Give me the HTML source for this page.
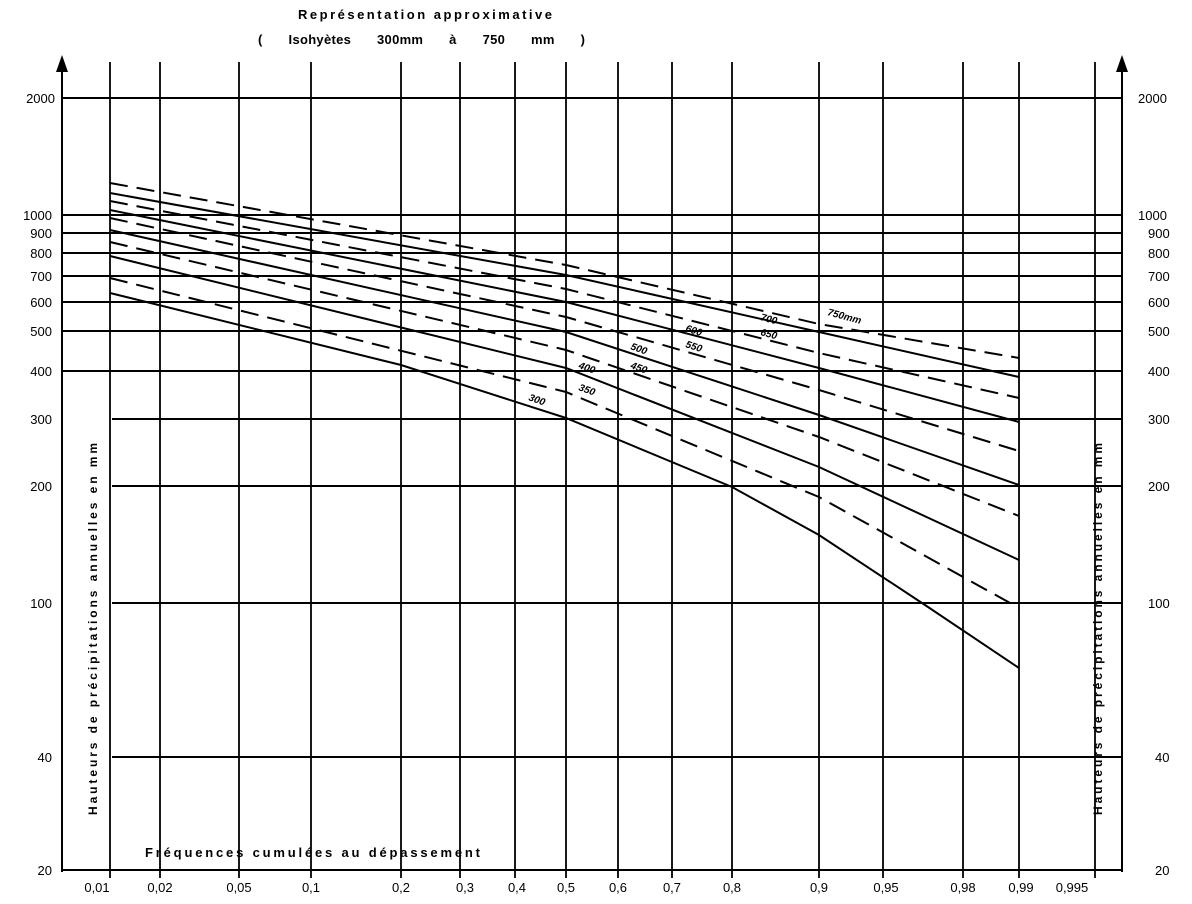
<!DOCTYPE html>
<html><head><meta charset="utf-8"><style>
body{margin:0;background:#fff}
svg{display:block}
text{font-family:"Liberation Sans",sans-serif;fill:#000}
</style></head><body>
<svg width="1192" height="904" viewBox="0 0 1192 904" xmlns="http://www.w3.org/2000/svg">
<g stroke="#000" stroke-width="2" fill="none">
<line x1="62" y1="62" x2="62" y2="872"/>
<line x1="1122" y1="62" x2="1122" y2="872"/>
<line x1="62" y1="870" x2="1122" y2="870"/>
<g stroke-width="1.8">
<line x1="110" y1="62" x2="110" y2="878"/>
<line x1="160" y1="62" x2="160" y2="878"/>
<line x1="239" y1="62" x2="239" y2="878"/>
<line x1="311" y1="62" x2="311" y2="878"/>
<line x1="401" y1="62" x2="401" y2="878"/>
<line x1="460" y1="62" x2="460" y2="878"/>
<line x1="515" y1="62" x2="515" y2="878"/>
<line x1="566" y1="62" x2="566" y2="878"/>
<line x1="618" y1="62" x2="618" y2="878"/>
<line x1="672" y1="62" x2="672" y2="878"/>
<line x1="732" y1="62" x2="732" y2="878"/>
<line x1="819" y1="62" x2="819" y2="878"/>
<line x1="883" y1="62" x2="883" y2="878"/>
<line x1="963" y1="62" x2="963" y2="878"/>
<line x1="1019" y1="62" x2="1019" y2="878"/>
<line x1="1095" y1="62" x2="1095" y2="878"/>
</g>
<line x1="62" y1="98" x2="1122" y2="98"/>
<line x1="62" y1="215" x2="1122" y2="215"/>
<line x1="62" y1="233" x2="1122" y2="233"/>
<line x1="62" y1="253" x2="1122" y2="253"/>
<line x1="62" y1="276" x2="1122" y2="276"/>
<line x1="62" y1="302" x2="1122" y2="302"/>
<line x1="62" y1="331" x2="1122" y2="331"/>
<line x1="62" y1="371" x2="1122" y2="371"/>
<line x1="112" y1="419" x2="1122" y2="419"/>
<line x1="112" y1="486" x2="1122" y2="486"/>
<line x1="112" y1="603" x2="1122" y2="603"/>
<line x1="112" y1="757" x2="1122" y2="757"/>
<g stroke-width="2">
<polyline points="110,193 566,275 819,332 1019,377"/>
<polyline points="110,210 566,302 819,368 1019,422"/>
<polyline points="110,230 566,332 819,415 1019,485"/>
<polyline points="110,256 566,368 819,467 1019,560"/>
<polyline points="110,293 401,365 566,418 732,487 819,535 925,605 1019,668"/>
</g>
<g stroke-width="2" stroke-dasharray="18,9">
<polyline points="110,183 566,265 819,324 1019,358"/>
<polyline points="110,201 566,289 819,353 1019,398"/>
<polyline points="110,218 566,317 819,390 1019,451"/>
<polyline points="110,242 566,350 819,437 1019,516"/>
<polyline points="110,278 566,392 819,497 1019,608"/>
</g>
</g>
<polygon points="62,55 56,72 68,72" fill="#000"/>
<polygon points="1122,55 1116,72 1128,72" fill="#000"/>
<g font-size="13" font-weight="bold">
<text x="298" y="19" textLength="254" lengthAdjust="spacing">Représentation approximative</text>
<text x="258" y="44" textLength="327" lengthAdjust="spacing" word-spacing="22">( Isohyètes 300mm à 750 mm )</text>
</g>
<g font-size="13" text-anchor="end">
<text x="55" y="103">2000</text>
<text x="52" y="220">1000</text>
<text x="52" y="238">900</text>
<text x="52" y="258">800</text>
<text x="52" y="281">700</text>
<text x="52" y="307">600</text>
<text x="52" y="336">500</text>
<text x="52" y="376">400</text>
<text x="52" y="424">300</text>
<text x="52" y="491">200</text>
<text x="52" y="608">100</text>
<text x="52" y="762">40</text>
<text x="52" y="875">20</text>
</g>
<g font-size="13">
<text x="1138" y="103">2000</text>
<text x="1138" y="220">1000</text>
<text x="1148" y="238">900</text>
<text x="1148" y="258">800</text>
<text x="1148" y="281">700</text>
<text x="1148" y="307">600</text>
<text x="1148" y="336">500</text>
<text x="1148" y="376">400</text>
<text x="1148" y="424">300</text>
<text x="1148" y="491">200</text>
<text x="1148" y="608">100</text>
<text x="1155" y="762">40</text>
<text x="1155" y="875">20</text>
</g>
<g font-size="13" text-anchor="middle">
<text x="97" y="892">0,01</text>
<text x="160" y="892">0,02</text>
<text x="239" y="892">0,05</text>
<text x="311" y="892">0,1</text>
<text x="401" y="892">0,2</text>
<text x="465" y="892">0,3</text>
<text x="517" y="892">0,4</text>
<text x="566" y="892">0,5</text>
<text x="618" y="892">0,6</text>
<text x="672" y="892">0,7</text>
<text x="732" y="892">0,8</text>
<text x="819" y="892">0,9</text>
<text x="886" y="892">0,95</text>
<text x="963" y="892">0,98</text>
<text x="1021" y="892">0,99</text>
<text x="1072" y="892">0,995</text>
</g>
<text x="145" y="857" font-size="13" font-weight="bold" textLength="335" lengthAdjust="spacing">Fréquences cumulées au dépassement</text>
<g font-size="12" font-weight="bold">
<text transform="translate(97,815) rotate(-90)" textLength="372" lengthAdjust="spacing">Hauteurs de précipitations annuelles en mm</text>
<text transform="translate(1102,815) rotate(-90)" textLength="372" lengthAdjust="spacing">Hauteurs de précipitations annuelles en mm</text>
</g>
<g font-size="10" font-style="italic" font-weight="bold">
<text x="760" y="320" transform="rotate(15 760 320)">700</text>
<text x="827" y="315" transform="rotate(15 827 315)">750mm</text>
<text x="760" y="335" transform="rotate(15 760 335)">650</text>
<text x="685" y="331" transform="rotate(18 685 331)">600</text>
<text x="685" y="347" transform="rotate(18 685 347)">550</text>
<text x="630" y="349" transform="rotate(20 630 349)">500</text>
<text x="630" y="368" transform="rotate(20 630 368)">450</text>
<text x="578" y="368" transform="rotate(20 578 368)">400</text>
<text x="578" y="390" transform="rotate(20 578 390)">350</text>
<text x="528" y="400" transform="rotate(20 528 400)">300</text>
</g>
</svg>
</body></html>
